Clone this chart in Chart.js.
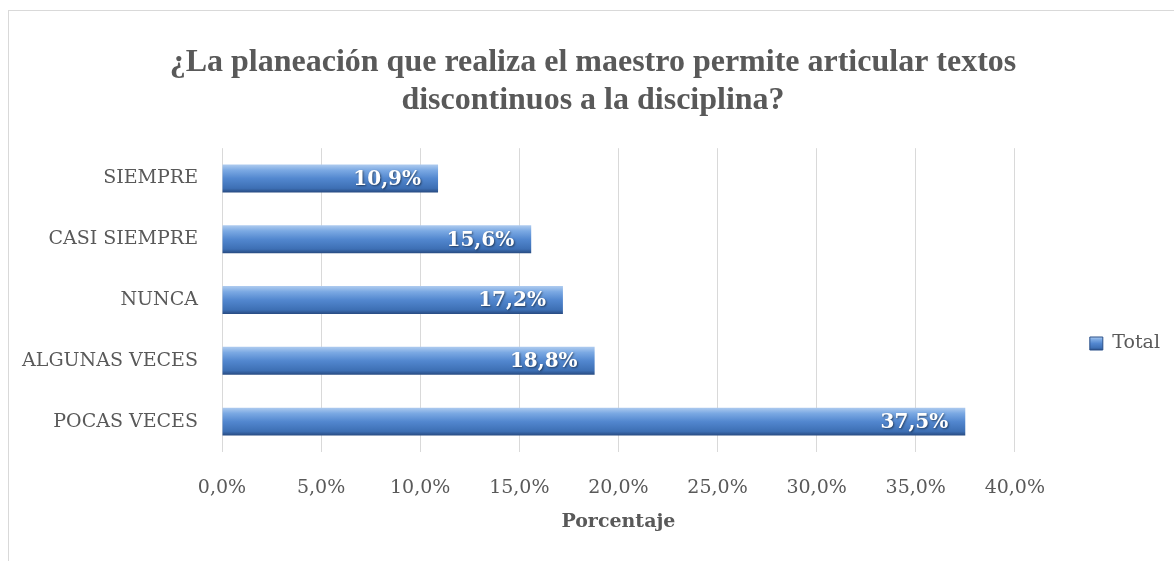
<!DOCTYPE html>
<html>
<head>
<meta charset="utf-8">
<script src="https://cdn.jsdelivr.net/npm/chart.js@4/dist/chart.umd.min.js"></script>
<style>
  html, body { margin: 0; padding: 0; background: #fff; }
  #wrap { width: 1174px; height: 561px; position: relative; }
</style>
</head>
<body>
<div id="wrap"><canvas id="chart" width="1174" height="561"></canvas></div>
<script>
const categories = ["SIEMPRE", "CASI SIEMPRE", "NUNCA", "ALGUNAS VECES", "POCAS VECES"];
const totals = [10.9, 15.6, 17.2, 18.8, 37.5];
const xTicks = [0, 5, 10, 15, 20, 25, 30, 35, 40];
const chartTitle = ["¿La planeación que realiza el maestro permite articular textos", "discontinuos a la disciplina?"];
const seriesName = "Total";
const axisTitle = "Porcentaje";

const gray = "#595959";
const barPct = 0.46;
const fmt = v => v.toFixed(1).replace(".", ",") + "%";

function blueGradient(c, top, bottom) {
    const g = c.createLinearGradient(0, top, 0, bottom);
    g.addColorStop(0, "#aecbef");
    g.addColorStop(0.2, "#7ba9e3");
    g.addColorStop(0.5, "#5287cf");
    g.addColorStop(0.85, "#3d6fb4");
    g.addColorStop(1, "#274a80");
    return g;
}

// vertical gradient per bar, gives the bevelled office look
function barFill(ctx) {
    const chart = ctx.chart;
    const y = chart.scales.y;
    if (ctx.type !== "data" || !y || !isFinite(y.height) || y.height <= 0) return "#4f81bd";
    const mid = y.getPixelForValue(ctx.dataIndex);
    const half = y.height / categories.length * barPct / 2;
    return blueGradient(chart.ctx, mid - half, mid + half);
}

// frame around the chart, like the one in the word document
const framePlugin = {
    id: "frame",
    beforeDraw(chart) {
        const c = chart.ctx;
        c.save();
        c.strokeStyle = "#d9d9d9";
        c.lineWidth = 1;
        c.strokeRect(8.5, 10.5, chart.width + 10, chart.height + 10);
        c.restore();
    }
};

// values written inside the end of each bar
const labelPlugin = {
    id: "barLabels",
    afterDatasetsDraw(chart) {
        const c = chart.ctx;
        const meta = chart.getDatasetMeta(0);
        c.save();
        c.font = "bold 20px 'DejaVu Serif'";
        c.textAlign = "right";
        c.textBaseline = "middle";
        c.shadowColor = "rgba(0,0,0,0.5)";
        c.shadowBlur = 2;
        c.shadowOffsetX = 1;
        c.shadowOffsetY = 1;
        c.fillStyle = "#ffffff";
        meta.data.forEach((bar, i) => {
            c.fillText(fmt(totals[i]), bar.x - 17, bar.y + 1);
        });
        c.restore();
    }
};

new Chart(document.getElementById("chart"), {
    type: "bar",
    data: {
        labels: categories,
        datasets: [{
            label: seriesName,
            data: totals,
            backgroundColor: barFill,
            borderWidth: 0,
            categoryPercentage: 1,
            barPercentage: barPct
        }]
    },
    options: {
        indexAxis: "y",
        responsive: false,
        animation: false,
        layout: { padding: { top: 44, right: 4, bottom: 28, left: 16 } },
        plugins: {
            title: {
                display: true,
                text: chartTitle,
                color: gray,
                font: { family: "'Liberation Serif'", size: 32, weight: "bold", lineHeight: 1.19 },
                padding: { top: 0, bottom: 28 }
            },
            legend: {
                display: true,
                position: "right",
                title: {
                    display: true,
                    text: " ",
                    font: { size: 10 },
                    padding: { top: 0, bottom: 98 }
                },
                labels: {
                    color: gray,
                    font: { family: "'DejaVu Serif'", size: 19 },
                    boxWidth: 13,
                    boxHeight: 13,
                    padding: 75,
                    generateLabels: chart => [{
                        text: seriesName,
                        fontColor: gray,
                        fillStyle: blueGradient(chart.ctx, 337, 350),
                        strokeStyle: "#2b5189",
                        lineWidth: 1,
                        datasetIndex: 0
                    }]
                }
            },
            tooltip: { enabled: false }
        },
        scales: {
            x: {
                min: 0,
                max: 40,
                afterBuildTicks: axis => { axis.ticks = xTicks.map(v => ({ value: v })); },
                afterFit: axis => { axis.height = 81; },
                grid: { color: "#d9d9d9", drawTicks: false },
                border: { display: false },
                ticks: {
                    color: gray,
                    font: { family: "'DejaVu Serif'", size: 19 },
                    padding: 25,
                    callback: v => fmt(v)
                },
                title: {
                    display: true,
                    text: axisTitle,
                    color: gray,
                    font: { family: "'DejaVu Serif'", size: 19, weight: "bold" },
                    padding: { top: 10, bottom: 0 }
                }
            },
            y: {
                afterFit: axis => { axis.width = 206; },
                grid: { display: false, drawTicks: false },
                border: { display: false },
                ticks: {
                    color: gray,
                    font: { family: "'DejaVu Serif'", size: 19 },
                    padding: 24
                }
            }
        }
    },
    plugins: [framePlugin, labelPlugin]
});
</script>
</body>
</html>
